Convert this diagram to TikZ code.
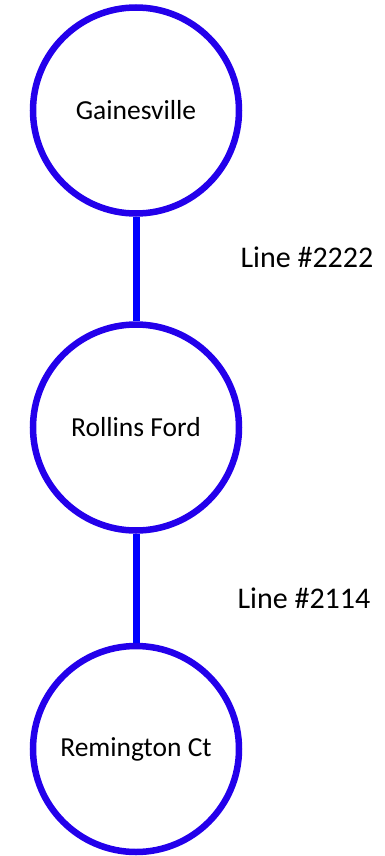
\documentclass[tikz,border=0pt]{standalone}
\usepackage{fontspec}
\setmainfont{Carlito}
\definecolor{bordgare}{RGB}{35,0,235}
\begin{document}
\begin{tikzpicture}[x=1pt,y=-1pt,
    gare/.style={circle,draw=bordgare,line width=6.5pt,minimum size=206pt,inner sep=0pt,font=\fontsize{27.5}{32}\selectfont},
    ligne/.style={blue,line width=7pt},
    etiquette/.style={font=\fontsize{30}{35}\selectfont}]
    \useasboundingbox (0,0) rectangle (385,856);

    % Gares
    \node[gare] (gainesville) at (136,110.5) {Gainesville};
    \node[gare] (rollins) at (136,427.5) {Rollins Ford};
    \node[gare] (remington) at (136,749) {Remington Ct};

    % Lignes entre les gares
    \draw[ligne] (gainesville) -- (rollins);
    \draw[ligne] (rollins) -- (remington);

    % Noms des lignes
    \node[etiquette] (l2222) at (307,257) {Line \#2222};
    \node[etiquette] (l2114) at (304,598) {Line \#2114};
\end{tikzpicture}
\end{document}
